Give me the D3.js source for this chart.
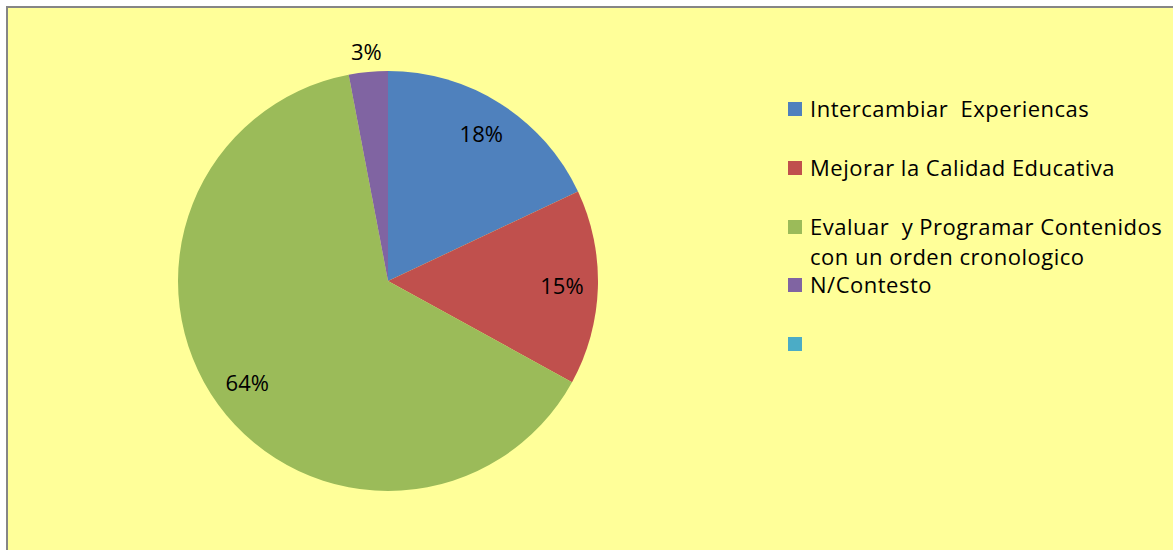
<!DOCTYPE html>
<html>
<head>
<meta charset="utf-8">
<script src="https://cdn.jsdelivr.net/npm/d3@7"></script>
<style>
  body { margin: 0; background: #fff; }
  svg text { font-family: "Open Sans", sans-serif; fill: #000; }
</style>
</head>
<body>
<div id="chart"></div>
<script>
// chart data
var categories = ["Intercambiar  Experiencas", "Mejorar la Calidad Educativa",
    "Evaluar  y Programar Contenidos con un orden cronologico", "N/Contesto", ""];
var values = [18, 15, 64, 3, 0];
var pctLabels = ["18%", "15%", "64%", "3%"];
var colors = ["#4F81BD", "#C0504D", "#9BBB59", "#8064A2", "#4BACC6"];

var width = 1173, height = 550;

var svg = d3.select("#chart").append("svg")
    .attr("width", width)
    .attr("height", height);

// chart area background + border
svg.append("rect")
    .attr("x", 7).attr("y", 7)
    .attr("width", width + 10).attr("height", height + 10)
    .attr("fill", "#FFFF99")
    .attr("stroke", "#868686")
    .attr("stroke-width", 2);

var cx = 388, cy = 281, radius = 210;

var pie = d3.pie().sort(null).value(function(d){ return d; });
var arcs = pie(values.slice(0, 4));

var arc = d3.arc().innerRadius(0).outerRadius(radius);
var labelArc = d3.arc().innerRadius(174).outerRadius(174);
var outerLabelArc = d3.arc().innerRadius(230).outerRadius(230);

var g = svg.append("g").attr("transform", "translate(" + cx + "," + cy + ")");

g.selectAll("path")
    .data(arcs)
    .enter().append("path")
    .attr("d", arc)
    .attr("fill", function(d, i){ return colors[i]; });

g.selectAll("text.pct")
    .data(arcs)
    .enter().append("text")
    .attr("class", "pct")
    .attr("transform", function(d){
        var c = (d.data < 5) ? outerLabelArc.centroid(d) : labelArc.centroid(d);
        return "translate(" + c + ")";
    })
    .attr("dy", "0.35em")
    .attr("text-anchor", "middle")
    .style("font-size", "22px")
    .text(function(d, i){ return pctLabels[i]; });

// legend
var legendY = [102, 161, 220, 278, 337];
var legend = svg.append("g").attr("transform", "translate(788,0)");

var items = legend.selectAll("g")
    .data(categories)
    .enter().append("g")
    .attr("transform", function(d, i){ return "translate(0," + legendY[i] + ")"; });

items.append("rect")
    .attr("width", 14).attr("height", 14)
    .attr("fill", function(d, i){ return colors[i]; });

items.each(function(d, i){
    var t = d3.select(this).append("text")
        .attr("x", 22).attr("y", 15)
        .style("font-size", "22px")
        .style("letter-spacing", "0.5px");
    var lines = (i == 2) ? ["Evaluar  y Programar Contenidos", "con un orden cronologico"] : [d];
    lines.forEach(function(l, j){
        t.append("tspan")
            .attr("x", 22)
            .attr("dy", j == 0 ? 0 : 30)
            .style("white-space", "pre")
            .text(l);
    });
});
</script>
</body>
</html>
